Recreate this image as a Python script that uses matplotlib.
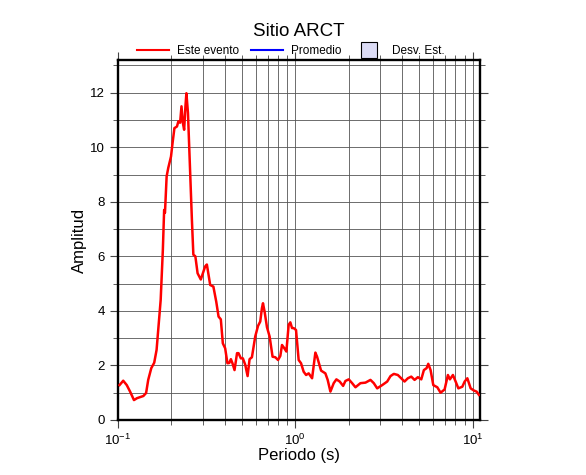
import matplotlib
matplotlib.use("Agg")
import matplotlib.pyplot as plt
from matplotlib.lines import Line2D
from matplotlib.ticker import LogLocator, MultipleLocator, NullFormatter

plt.rcParams['font.family'] = ['Liberation Sans', 'DejaVu Sans']
plt.rcParams['mathtext.fontset'] = 'custom'
plt.rcParams['mathtext.rm'] = 'Liberation Sans'
plt.rcParams['mathtext.it'] = 'Liberation Sans:italic'

# curva "Este evento" (periodo [s], amplitud)
periodo = [0.102, 0.107, 0.112, 0.117, 0.123, 0.128, 0.139, 0.144, 0.148, 0.154,
           0.160, 0.165, 0.171, 0.174, 0.177, 0.179, 0.182, 0.184, 0.188, 0.192,
           0.199, 0.203, 0.208, 0.215, 0.219, 0.224, 0.228, 0.232, 0.236, 0.240,
           0.243, 0.248, 0.252, 0.256, 0.261, 0.266, 0.273, 0.281, 0.293, 0.310,
           0.317, 0.331, 0.345, 0.358, 0.369, 0.380, 0.390, 0.402, 0.414, 0.424,
           0.433, 0.442, 0.454, 0.469, 0.478, 0.493, 0.506, 0.522, 0.538, 0.552,
           0.569, 0.594, 0.616, 0.634, 0.648, 0.657, 0.671, 0.692, 0.716, 0.744,
           0.771, 0.799, 0.823, 0.841, 0.867, 0.890, 0.917, 0.937, 0.958, 0.978,
           1.009, 1.044, 1.077, 1.114, 1.150, 1.189, 1.243, 1.297, 1.326, 1.397,
           1.477, 1.522, 1.577, 1.646, 1.704, 1.779, 1.860, 1.916, 2.001, 2.091,
           2.183, 2.329, 2.486, 2.653, 2.770, 2.895, 3.090, 3.297, 3.442, 3.593,
           3.785, 3.956, 4.129, 4.311, 4.506, 4.703, 4.910, 5.132, 5.308, 5.497,
           5.620, 5.791, 5.998, 6.318, 6.595, 6.947, 7.252, 7.443, 7.739, 8.017,
           8.303, 8.746, 9.014, 9.335, 9.743, 10.17, 10.53, 10.85]
amplitud = [1.28, 1.44, 1.28, 1.04, 0.73, 0.80, 0.88, 0.99, 1.47, 1.90,
            2.10, 2.57, 3.80, 4.40, 5.50, 6.24, 7.70, 7.60, 8.93, 9.24,
            9.66, 10.15, 10.70, 10.76, 10.95, 10.90, 11.50, 10.90, 10.64, 11.50,
            11.98, 11.26, 10.03, 8.80, 7.34, 6.06, 6.00, 5.38, 5.15, 5.63,
            5.70, 4.95, 4.89, 4.34, 3.79, 3.69, 2.81, 2.63, 2.08, 2.09,
            2.23, 2.08, 1.83, 2.45, 2.45, 2.26, 2.26, 2.02, 1.61, 2.23,
            2.30, 3.06, 3.45, 3.61, 4.10, 4.28, 3.97, 3.40, 3.06, 2.32,
            2.30, 2.20, 2.35, 2.75, 2.63, 2.51, 3.49, 3.58, 3.37, 3.37,
            3.30, 2.20, 2.08, 1.77, 1.65, 1.71, 1.53, 2.47, 2.32, 1.81,
            1.71, 1.47, 1.04, 1.35, 1.49, 1.41, 1.25, 1.43, 1.49, 1.35,
            1.20, 1.35, 1.37, 1.47, 1.35, 1.16, 1.28, 1.41, 1.61, 1.69,
            1.65, 1.53, 1.41, 1.53, 1.59, 1.47, 1.57, 1.49, 1.83, 1.90,
            2.06, 1.83, 1.28, 1.20, 1.00, 1.12, 1.65, 1.49, 1.65, 1.41,
            1.16, 1.22, 1.41, 1.53, 1.16, 1.08, 1.04, 0.92]

fig = plt.figure(figsize=(5.86, 4.75), dpi=100)
ax = fig.add_axes([0.2014, 0.1158, 0.6177, 0.758])

ax.plot(periodo, amplitud, color='red', linewidth=1.8, zorder=3)

ax.set_xscale('log')
ax.set_xlim(0.1, 11.0)
ax.set_ylim(0, 13.2)

ax.xaxis.set_major_locator(LogLocator(base=10))
ax.xaxis.set_minor_locator(LogLocator(base=10, subs=range(2, 10)))
ax.xaxis.set_minor_formatter(NullFormatter())
ax.yaxis.set_major_locator(MultipleLocator(2))
ax.yaxis.set_minor_locator(MultipleLocator(1))

ax.grid(True, which='both', color='#555555', linewidth=0.6)
ax.set_axisbelow(True)

ax.tick_params(which='both', direction='out', top=True, right=True,
               labelsize=9.5, color='#444444')
ax.tick_params(which='major', length=6, width=0.8)
ax.tick_params(which='minor', length=3.5, width=0.6)

for s in ax.spines.values():
    s.set_linewidth(1.7)

ax.set_xlabel('Periodo (s)', fontsize=12, labelpad=0)
ax.set_ylabel('Amplitud', fontsize=12, labelpad=2)
fig.text(0.51, 0.933, 'Sitio ARCT', fontsize=13.5, ha='center', va='center')

handles = [Line2D([], [], color='red', linewidth=1.5),
           Line2D([], [], color='blue', linewidth=1.5),
           Line2D([], [], linestyle='none', marker='s', markersize=11,
                  markerfacecolor='#dcdcf5', markeredgecolor='black',
                  markeredgewidth=0.8)]
labels = ['Este evento', 'Promedio', 'Desv. Est.']
fig.legend(handles, labels, loc='center', bbox_to_anchor=(0.497, 0.893), ncol=3,
           frameon=False, fontsize=8.5, handlelength=2.7, columnspacing=1.0,
           handletextpad=0.65, borderpad=0)

fig.savefig('out.png', dpi=100)
